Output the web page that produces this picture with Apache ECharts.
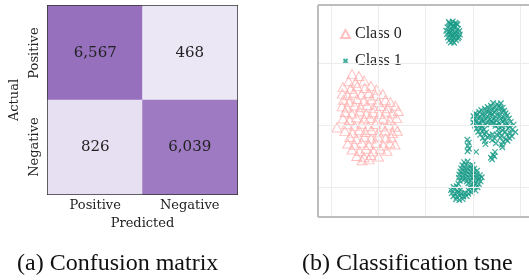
<!DOCTYPE html>
<html>
<head>
<meta charset="utf-8">
<script src="https://cdn.jsdelivr.net/npm/echarts@6/dist/echarts.min.js"></script>
<style>
  html, body { margin: 0; padding: 0; background: #fff; }
  #chart { width: 529px; height: 280px; }
</style>
</head>
<body>
<div id="chart"></div>
<script>
// confusion matrix
let predictedLabels = ['Positive', 'Negative'];
let actualLabels = ['Positive', 'Negative'];
let confusion = [
    [6567, 468],   // actual positive
    [826, 6039]    // actual negative
];

// t-SNE embedding, panel is cut off on the right
let xRange = [-65.6, 23.7];
let yRange = [-9.7, 58.7];
let gridX = [-60, -40, -20, 0, 20];
let gridY = [0, 20, 40];

let class0 = [
    [-51.2,36.4],[-48.3,35.8],
    [-52.6,34.1],[-49.7,33.6],[-46.1,34.3],
    [-55.0,32.2],[-51.8,31.7],[-49.0,32.5],[-45.8,31.9],[-43.2,32.6],[-40.9,31.4],
    [-55.3,30.1],[-53.1,29.6],[-50.4,30.4],[-47.2,29.8],[-44.1,30.3],[-41.3,29.5],[-38.2,30.0],
    [-54.8,28.1],[-52.4,27.5],[-49.1,28.4],[-46.3,27.8],[-43.0,28.2],[-40.2,27.3],[-37.1,28.0],[-35.0,27.4],
    [-55.4,26.0],[-53.3,25.6],[-50.2,26.3],[-47.6,25.7],[-44.8,26.4],[-42.1,25.5],[-39.0,26.1],[-36.2,25.4],[-32.9,26.2],
    [-54.1,24.2],[-51.3,23.7],[-48.0,24.4],[-45.2,23.6],[-42.3,24.1],[-39.6,23.5],[-36.8,24.3],[-34.2,23.8],[-31.6,24.5],
    [-55.0,22.1],[-52.2,21.6],[-49.3,22.4],[-46.0,21.8],[-43.6,22.3],[-40.8,21.4],[-38.1,22.0],[-35.2,21.5],[-32.3,22.2],
    [-53.4,20.2],[-50.1,19.7],[-47.2,20.4],[-44.3,19.6],[-41.2,20.3],[-38.4,19.5],[-35.6,20.1],[-33.0,19.4],
    [-54.2,18.0],[-51.0,17.5],[-48.2,18.3],[-45.6,17.7],[-43.0,18.4],[-40.1,17.6],[-37.3,18.2],[-34.1,17.4],[-32.0,18.1],
    [-52.1,16.1],[-49.3,15.5],[-46.0,16.2],[-43.2,15.6],[-40.3,16.3],[-37.0,15.7],[-34.6,16.0],
    [-53.0,14.0],[-50.2,13.6],[-47.1,14.3],[-44.0,13.5],[-41.1,14.2],[-38.0,13.4],[-35.2,14.1],[-33.0,13.7],
    [-51.2,12.1],[-48.0,11.6],[-45.3,12.3],[-42.1,11.5],[-39.2,12.2],[-36.4,11.7],
    [-49.2,10.0],[-46.1,9.6],[-43.3,10.3],[-40.0,9.8],
    [-47.0,8.6],[-44.1,8.9],
    [-57.6,19.2]
];

let class1 = [
    // top cluster
    [-10.2,53.2],[-8.6,53.4],[-7.4,53.0],[-9.5,52.3],[-8.1,52.1],[-6.6,52.4],[-10.8,51.5],[-9.2,51.2],
    [-7.7,51.4],[-6.3,51.0],[-11.3,50.4],[-10.0,50.2],[-8.8,50.6],[-7.2,50.1],[-5.8,50.3],[-11.0,49.3],
    [-9.6,49.1],[-8.3,49.4],[-6.9,49.0],[-5.6,49.2],[-10.6,48.2],[-9.1,48.0],[-7.8,48.3],[-6.4,47.9],
    [-10.1,47.2],[-8.6,47.0],[-7.1,47.3],[-9.4,46.6],[-8.0,46.5],[-9.9,52.8],[-7.0,52.6],[-8.4,51.7],
    [-9.8,49.8],[-7.5,49.6],[-8.9,48.7],[-6.0,48.4],
    // right cluster
    [8.5,27.1],[10.2,26.7],[11.8,27.0],
    [6.2,25.8],[7.6,26.2],[9.3,25.7],[11.0,26.1],[12.6,25.6],
    [3.5,24.8],[5.0,25.2],[6.8,24.6],[8.2,25.1],[9.8,24.7],[11.5,25.3],[13.2,24.6],
    [1.0,23.8],[2.6,24.2],[4.1,23.6],[5.6,24.3],[7.2,23.7],[8.9,24.1],[10.5,23.5],[12.1,24.2],[13.8,23.8],
    [0.2,22.8],[1.7,23.2],[3.2,22.6],[4.8,23.1],[6.3,22.7],[8.0,23.3],[9.6,22.6],[11.2,23.0],[12.9,22.5],[14.5,23.1],
    [0.6,21.8],[2.1,22.2],[3.7,21.6],[5.3,22.1],[6.9,21.7],[8.5,22.0],[9.9,21.5],[11.7,22.0],[13.4,21.6],[15.2,22.1],
    [0.1,20.8],[1.4,21.1],[2.9,20.6],[4.4,21.2],[6.0,20.7],[7.9,21.1],[11.0,20.6],[12.6,21.1],[14.3,20.5],[16.0,21.0],
    [0.8,19.8],[2.3,20.2],[3.8,19.6],[5.4,20.1],[7.6,20.3],[8.8,20.6],[9.5,19.7],[10.3,20.0],[12.2,19.5],[13.8,20.0],[15.5,19.6],[17.2,20.1],
    [1.5,18.8],[3.1,19.1],[4.7,18.6],[10.8,18.7],[12.5,18.3],[14.9,18.9],[16.6,18.5],
    [2.2,17.8],[3.9,18.1],[5.6,17.6],[11.3,17.4],[13.6,17.8],[15.8,17.3],[17.9,17.7],
    [3.0,16.8],[4.8,17.1],[7.0,16.6],[8.3,16.9],[10.0,16.9],[12.1,16.4],[14.3,16.8],[16.5,16.3],
    [4.2,15.8],[6.1,16.1],[9.2,15.6],[11.6,15.9],[13.9,15.4],[15.4,15.8],
    [5.0,14.8],[8.1,15.1],[12.7,14.6],[14.6,14.9],
    [5.3,13.8],[9.7,14.1],[12.2,13.6],
    [12.4,12.8],
    // small groups
    [-2.4,15.2],[-1.8,14.3],[-2.2,13.3],[-1.7,12.3],[-2.3,11.5],
    [1.3,11.3],
    [7.6,9.4],[8.5,10.4],[9.3,11.3],[8.1,8.9],[9.0,9.9],
    // bottom cluster
    [-3.8,8.0],[-2.3,8.2],
    [-4.5,7.0],[-3.0,7.2],[-1.5,6.8],[-0.2,7.1],
    [-5.0,6.0],[-3.6,6.2],[-2.1,5.8],[-0.7,6.1],[0.6,5.9],
    [-5.3,5.0],[-3.9,5.2],[-2.5,4.8],[-1.0,5.1],[0.4,4.9],[1.7,5.2],
    [-5.8,4.0],[-4.4,4.2],[-2.9,3.8],[-1.4,4.1],[0.1,3.9],[1.5,4.2],[2.9,3.8],
    [-6.0,3.0],[-4.6,3.2],[-3.2,2.8],[-1.8,3.1],[-0.3,2.9],[1.2,3.2],[2.6,2.8],[3.7,3.1],
    [-5.6,2.0],[-4.1,2.2],[-2.6,1.8],[-1.1,2.1],[0.5,1.9],[2.0,2.2],[3.2,1.8],
    [-6.2,1.0],[-2.0,1.2],[-0.5,0.8],[1.0,1.1],[2.5,0.9],
    [-8.2,0.0],[-6.9,0.2],[-1.2,-0.2],[0.3,0.1],[1.9,-0.1],
    [-9.3,-1.0],[-8.0,-0.8],[-6.6,-1.2],[-5.3,-0.9],[-1.9,-1.1],[-0.4,-0.8],[1.1,-1.2],
    [-9.0,-2.0],[-7.6,-2.2],[-6.2,-1.8],[-4.8,-2.1],[-3.4,-1.9],[-2.0,-2.2],[-0.6,-1.8],
    [-8.3,-3.0],[-6.9,-3.2],[-5.5,-2.8],[-4.1,-3.1],[-2.7,-2.9],
    [-7.2,-4.0],[-5.8,-4.2],[-4.4,-3.9]
];

let heatData = [];
actualLabels.forEach(function (a, i) {
    predictedLabels.forEach(function (p, j) {
        // y axis runs bottom-up, so actual 'Positive' sits on top
        heatData.push([j, actualLabels.length - 1 - i, confusion[i][j]]);
    });
});

let chart = echarts.init(document.getElementById('chart'), null, { renderer: 'canvas' });

let cmFont = 'DejaVu Serif';
let capFont = 'Liberation Serif';
let crossPath = 'path://M0,0L10,10M0,10L10,0';

let thin = { color: '#ececec', width: 1, type: 'solid' };
let frame = { color: '#bdbdbd', width: 2, type: 'solid' };
let gridLines = gridX.map(function (v) { return { xAxis: v, lineStyle: thin }; })
    .concat(gridY.map(function (v) { return { yAxis: v, lineStyle: thin }; }))
    // left, bottom and top frame only: the right side is cropped
    .concat([
        { xAxis: xRange[0], lineStyle: frame },
        { yAxis: yRange[0], lineStyle: frame },
        { yAxis: yRange[1], lineStyle: frame }
    ]);

let option = {
    animation: false,
    title: [
        {
            text: '(a) Confusion matrix',
            left: 17, top: 252, padding: 0,
            textStyle: { fontFamily: capFont, fontSize: 24, fontWeight: 'normal', color: '#111' }
        },
        {
            text: '(b) Classification tsne',
            left: 302, top: 252, padding: 0,
            textStyle: { fontFamily: capFont, fontSize: 24, fontWeight: 'normal', color: '#111' }
        }
    ],
    grid: [
        { left: 48, top: 6, width: 189, height: 188, show: true, borderColor: '#333', borderWidth: 2 },
        { left: 318, top: 5, right: 0, bottom: 63, show: false }
    ],
    visualMap: {
        show: false,
        type: 'continuous',
        seriesIndex: 0,
        min: 468,
        max: 6567,
        inRange: { color: ['#ebe7f5', '#9670bc'] }
    },
    legend: {
        data: [
            { name: 'Class 0', icon: 'triangle' },
            // blank moves keep the cross smaller than the triangle
            { name: 'Class 1', icon: 'path://M0,0M2.5,2.5L7.5,7.5M2.5,7.5L7.5,2.5M10,10' }
        ],
        orient: 'vertical',
        left: 340,
        top: 26,
        padding: 0,
        itemWidth: 9,
        itemHeight: 8,
        itemGap: 11,
        textStyle: { fontFamily: capFont, fontSize: 16, color: '#222' }
    },
    xAxis: [
        {
            gridIndex: 0,
            type: 'category',
            data: predictedLabels,
            name: 'Predicted',
            nameLocation: 'middle',
            nameGap: 18,
            nameTextStyle: { fontFamily: cmFont, fontSize: 13, color: '#222' },
            axisLine: { show: false },
            axisTick: { show: false },
            axisLabel: { fontFamily: cmFont, fontSize: 13, color: '#222', margin: 5 },
            splitLine: { show: false }
        },
        {
            gridIndex: 1,
            type: 'value',
            min: xRange[0],
            max: xRange[1],
            axisLine: { show: false },
            axisTick: { show: false },
            axisLabel: { show: false },
            splitLine: { show: false }
        }
    ],
    yAxis: [
        {
            gridIndex: 0,
            type: 'category',
            data: actualLabels.slice().reverse(),
            name: 'Actual',
            nameLocation: 'middle',
            nameGap: 27,
            nameRotate: 90,
            nameTextStyle: { fontFamily: cmFont, fontSize: 13, color: '#222' },
            axisLine: { show: false },
            axisTick: { show: false },
            axisLabel: { fontFamily: cmFont, fontSize: 13, color: '#222', rotate: 90, margin: 7 },
            splitLine: { show: false }
        },
        {
            gridIndex: 1,
            type: 'value',
            min: yRange[0],
            max: yRange[1],
            axisLine: { show: false },
            axisTick: { show: false },
            axisLabel: { show: false },
            splitLine: { show: false }
        }
    ],
    series: [
        {
            type: 'heatmap',
            xAxisIndex: 0,
            yAxisIndex: 0,
            data: heatData,
            label: {
                show: true,
                fontFamily: cmFont,
                fontSize: 15,
                color: '#222',
                formatter: function (p) { return p.value[2].toLocaleString('en-US'); }
            },
            itemStyle: { borderWidth: 0 },
            emphasis: { disabled: true }
        },
        {
            // grid lines and frame of the tsne panel
            type: 'scatter',
            xAxisIndex: 1,
            yAxisIndex: 1,
            data: [],
            z: 1,
            silent: true,
            clip: false,
            markLine: {
                silent: true,
                symbol: ['none', 'none'],
                label: { show: false },
                data: gridLines
            }
        },
        {
            name: 'Class 0',
            type: 'scatter',
            xAxisIndex: 1,
            yAxisIndex: 1,
            z: 2,
            symbol: 'triangle',
            symbolSize: [10, 9],
            data: class0,
            itemStyle: { color: 'rgba(255,255,255,0)', borderColor: '#ffb1b1', borderWidth: 1 },
            emphasis: { disabled: true }
        },
        {
            name: 'Class 1',
            type: 'scatter',
            xAxisIndex: 1,
            yAxisIndex: 1,
            z: 3,
            symbol: crossPath,
            symbolSize: 5.5,
            data: class1,
            itemStyle: { color: 'rgba(255,255,255,0)', borderColor: '#159a86', borderWidth: 1.3 },
            emphasis: { disabled: true }
        }
    ]
};
option && chart.setOption(option);
</script>
</body>
</html>
